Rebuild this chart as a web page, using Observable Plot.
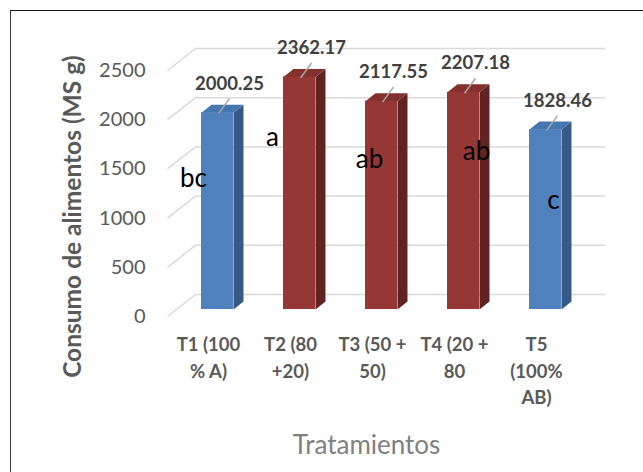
<!DOCTYPE html>
<html>
<head>
<meta charset="utf-8">
<script src="https://cdn.jsdelivr.net/npm/d3@7"></script>
<script src="https://cdn.jsdelivr.net/npm/@observablehq/plot@0.6"></script>
<style>
  html, body { margin: 0; padding: 0; background: #fff; overflow: hidden; }
  #wrap { position: relative; width: 643px; height: 472px; }
  #border { position: absolute; left: 10px; top: 10px; width: 700px; height: 520px;
            border-left: 1.5px solid #3a3a3a; border-top: 1.5px solid #1a1a1a; pointer-events: none; }
</style>
</head>
<body>
<div id="wrap"><div id="border"></div></div>
<script>
// ---- data ----
const categories = ["T1 (100\n% A)", "T2 (80\n+20)", "T3 (50 +\n50)", "T4 (20 +\n80", "T5\n(100%\nAB)"];
const consumo = [2000.25, 2362.17, 2117.55, 2207.18, 1828.46];
const letters = ["bc", "a", "ab", "ab", "c"];
const groups = ["A", "B", "B", "B", "A"];
const yTicks = [0, 500, 1000, 1500, 2000, 2500];
const yTitle = "Consumo de alimentos (MS g)";
const xTitle = "Tratamientos";

// ---- layout ----
const W = 643, H = 472;
const mL = 176, mR = 57, mT = 63, mB = 163;
const PX = 5 / (W - mL - mR);            // x units per pixel
const PY = 2500 / (H - mT - mB);         // y units per pixel
const DX = 10, DY = 8;                   // bar depth in px
const BW = 0.39;                          // bar width (fraction of step)
const palette = {
  A: {front: "#4f81bd", side: "#365a86", top: "#4676b0"},
  B: {front: "#953735", side: "#612321", top: "#83302e"}
};
// letter annotation placement (offset within category, value-unit height)
const letterPlace = [[0.207, 1250], [0.171, 1657], [0.354, 1443], [0.659, 1524], [0.598, 1026]];
const catBaseline = 41.5, catLineH = 26.5; // px below the zero line

const bars = consumo.map((v, i) => ({
  i, v, g: groups[i], x1: i + (1 - BW) / 2, x2: i + (1 + BW) / 2
}));
const sides = bars.flatMap(b => [
  [b.x2, 0], [b.x2 + DX * PX, DY * PY], [b.x2 + DX * PX, b.v + DY * PY], [b.x2, b.v], [b.x2, 0]
].map(([x, y]) => ({x, y, id: b.i, fill: palette[b.g].side})));
const tops = bars.flatMap(b => [
  [b.x1, b.v], [b.x2, b.v], [b.x2 + DX * PX, b.v + DY * PY], [b.x1 + DX * PX, b.v + DY * PY], [b.x1, b.v]
].map(([x, y]) => ({x, y, id: b.i, fill: palette[b.g].top})));
const catLines = categories.flatMap((c, i) => c.split("\n").map((t, j) => ({i, j, t})));

const font = "Lato, 'Open Sans', sans-serif";
const grid = "#d9d9d9";

const chart = Plot.plot({
  width: W, height: H,
  marginLeft: mL, marginRight: mR, marginTop: mT, marginBottom: mB,
  x: {type: "linear", domain: [0, 5], axis: null},
  y: {domain: [0, 2500], axis: null, clamp: false},
  color: {type: "identity"},
  style: {fontFamily: font, background: "transparent", overflow: "visible"},
  marks: [
    // back-wall gridlines
    Plot.ruleY(yTicks, {y: d => d, dx: 19, dy: -15, stroke: grid, strokeWidth: 1.5}),
    // side-wall slanted gridlines
    Plot.link(yTicks, {
      x1: -9 * PX, y1: d => d - 7 * PY, x2: 19 * PX, y2: d => d + 15 * PY,
      stroke: grid, strokeWidth: 1.5
    }),
    // bars: side, top, front
    Plot.line(sides, {x: "x", y: "y", z: "id", fill: "fill", stroke: "none"}),
    Plot.line(tops, {x: "x", y: "y", z: "id", fill: "fill", stroke: "none"}),
    Plot.rectY(bars, {x1: "x1", x2: "x2", y1: 0, y2: "v", fill: d => palette[d.g].front}),
    // leader lines
    Plot.link(bars, {
      x1: d => d.i + 0.5 + 1 * PX, y1: d => d.v - 1 * PY,
      x2: d => d.i + 0.5 + 12 * PX, y2: d => d.v + 14 * PY,
      stroke: "#a6a6a6", strokeWidth: 1.5
    }),
    // value labels
    Plot.text(bars, {
      x: d => d.i + 0.5, y: "v", text: d => d.v.toFixed(2), dx: 12, dy: -23,
      lineAnchor: "bottom", fontSize: 18.5, fontWeight: "bold", fill: "#404040"
    }),
    // significance letters
    Plot.text(letters, {
      x: (d, i) => i + letterPlace[i][0], y: (d, i) => letterPlace[i][1], text: d => d,
      lineAnchor: "bottom", fontSize: 26, fill: "#000"
    }),
    // y tick labels
    Plot.text(yTicks, {
      x: 0, y: d => d, text: d => String(d), dx: -31, dy: 7,
      textAnchor: "end", fontSize: 20, fill: "#595959"
    }),
    // category labels
    Plot.text(catLines, {
      x: d => d.i + 0.5, y: d => -(catBaseline + d.j * catLineH) * PY, text: "t", dx: -9,
      lineAnchor: "bottom", fontSize: 18.5, fontWeight: "bold", fill: "#595959"
    }),
    // axis titles
    Plot.text([yTitle], {
      frameAnchor: "left", text: d => d, rotate: -90, dx: -96, dy: 30,
      lineAnchor: "bottom", textAnchor: "middle", fontSize: 24.5, fontWeight: "bold", fill: "#595959"
    }),
    Plot.text([xTitle], {
      frameAnchor: "bottom", text: d => d, dx: -15, dy: 144,
      lineAnchor: "bottom", textAnchor: "middle", fontSize: 26, fill: "#808080"
    })
  ]
});
document.getElementById("wrap").prepend(chart);
</script>
</body>
</html>
